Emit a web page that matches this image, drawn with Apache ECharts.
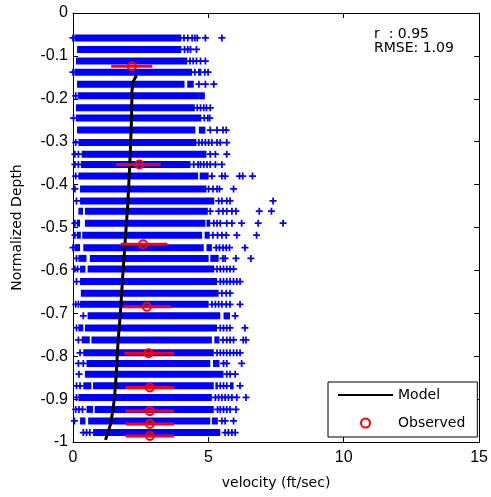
<!DOCTYPE html>
<html>
<head>
<meta charset="utf-8">
<script src="https://cdn.jsdelivr.net/npm/echarts@6/dist/echarts.min.js"></script>
<style>html,body{margin:0;padding:0;background:#fff;}#c{width:491px;height:497px;}</style>
</head>
<body>
<div id="c"></div>
<script>
// ---- data ----
const rowDepths = [-0.058,-0.085,-0.112,-0.138,-0.166,-0.193,-0.221,-0.245,-0.273,-0.302,-0.329,-0.353,-0.380,-0.410,-0.438,-0.462,-0.490,-0.518,-0.547,-0.572,-0.597,-0.626,-0.653,-0.679,-0.706,-0.734,-0.762,-0.792,-0.817,-0.842,-0.869,-0.896,-0.924,-0.951,-0.978];
const bandStart = [0.05,0.15,0.11,0.05,0.15,0.17,0.11,0.11,0.15,0.20,0.32,0.29,0.20,0.26,0.26,0.44,0.44,0.34,0.38,0.62,0.54,0.26,0.29,0.26,0.54,0.44,0.68,0.38,0.50,0.44,0.74,0.20,0.80,0.56,0.74];
const bandEnd = [4.00,4.00,4.22,4.40,4.12,4.65,4.50,4.74,4.52,4.56,4.93,4.34,4.62,4.93,5.22,4.98,4.89,4.77,4.83,5.01,5.22,5.32,5.38,5.01,5.44,5.32,5.13,5.20,5.07,5.56,5.20,5.13,5.20,5.07,5.44];
const rowClusters = [
  [],[],[],[[4.62,4.74]],[[4.22,4.46]],[[4.65,4.87]],[],[],[[4.65,4.89]],[],
  [],[],[[4.68,5.01]],[],[],[[0.20,0.37]],[[0.14,0.26],[4.93,5.07]],[[0.14,0.29],[4.86,5.05]],[[0.05,0.26],[4.93,5.13]],[[0.20,0.50],[5.07,5.38]],
  [[0.26,0.46]],[],[],[],[[5.56,5.80]],[[0.20,0.38]],[[0.32,0.62],[5.22,5.41]],[],[[5.17,5.41]],[],
  [[0.38,0.68],[5.26,5.35],[5.80,5.93]],[],[[0.50,0.74]],[[0.26,0.46],[5.13,5.35]],[]
];
const rowPluses = [
  [0.0,4.10,4.24,4.40,4.50,4.59,4.89,5.50],
  [4.12,4.24,4.34,4.56],
  [4.32,4.44,4.56,4.71,4.89],
  [0.0,4.50,4.87,4.99],
  [4.65,4.89,5.20],
  [0.10],
  [4.59,4.71,4.83,4.93,5.07],
  [0.02,4.85,4.98,5.05],
  [5.07,5.32,5.54,5.66],
  [0.10,4.65,4.77,4.89,5.01,5.13,5.32,5.44,5.68],
  [0.07,0.20,5.07,5.26,5.68],
  [0.07,0.20,4.46,4.62,4.71,4.83,4.95,5.07,5.26,5.50],
  [0.10,5.13,5.50,5.62,6.15,6.27,6.63],
  [0.07,5.01,5.17,5.32,5.41,5.93],
  [0.13,5.38,5.50,5.68,5.80,7.39],
  [5.07,5.38,5.54,5.68,5.87,6.02,6.88,7.33],
  [0.07,5.20,5.32,5.44,5.68,5.87,6.23,6.84,7.76],
  [0.07,5.17,5.34,5.50,5.66,6.05,6.78],
  [0.00,5.29,5.41,5.54,5.66,5.78,6.35],
  [0.13,5.54,5.62,6.02,6.57],
  [0.07,0.17,5.32,5.44,5.56,5.68,5.80,5.93],
  [0.13,5.44,5.56,5.68,5.80,5.93,6.05,6.17],
  [5.50,5.66,5.80],
  [0.10,0.20,5.13,5.26,5.38,5.50,5.66,5.80,6.17],
  [0.38,5.99],
  [0.13,5.44,5.56,5.68,5.80,6.35],
  [0.20,5.54,5.68,5.80,5.93,6.29,6.39],
  [0.26,5.32,5.44,5.56,5.68,5.80,5.93,6.05,6.17],
  [0.20,0.38,5.56,5.68,6.23],
  [0.22,5.68,5.80,5.99],
  [0.13,0.26,5.44,5.56,5.68,6.17],
  [0.13,5.26,5.38,5.50,5.62,5.74,5.87,6.05,6.39],
  [0.10,0.22,0.35,5.34,5.44,5.56,5.68,5.80,6.02],
  [0.05,5.50,5.62,5.93],
  [0.38,0.50,0.62,5.62,5.74,5.87,5.99]
];
const modelDepth = [-0.145,-0.160,-0.180,-0.25,-0.35,-0.45,-0.52,-0.61,-0.70,-0.77,-0.84,-0.89,-0.92,-0.96,-0.995];
const modelVel   = [2.35,2.22,2.18,2.16,2.10,2.02,1.94,1.84,1.75,1.66,1.60,1.54,1.49,1.38,1.20];
const obsDepth = [-0.124,-0.353,-0.539,-0.685,-0.793,-0.873,-0.928,-0.958,-0.986];
const obsVel   = [2.17,2.45,2.59,2.73,2.79,2.84,2.84,2.84,2.84];
const obsLo    = [1.41,1.60,1.76,1.85,1.90,1.94,1.94,1.94,1.94];
const obsHi    = [2.93,3.24,3.49,3.63,3.73,3.73,3.73,3.73,3.73];
const statsText = ['r  : 0.95','RMSE: 1.09'];

// ---- build ----
const bandData = [];
rowDepths.forEach((d,i)=>{
  bandData.push([bandStart[i], bandEnd[i], d]);
  rowClusters[i].forEach(c=>bandData.push([c[0], c[1], d]));
});
const plusData = [];
rowDepths.forEach((d,i)=>rowPluses[i].forEach(v=>plusData.push([v,d])));
const modelData = modelDepth.map((d,i)=>[modelVel[i], d]);
const obsData = obsDepth.map((d,i)=>[obsVel[i], d]);
const errData = obsDepth.map((d,i)=>[obsLo[i], obsHi[i], d]);

const TICKFONT = 'Liberation Sans, Arial, sans-serif';
const TEXTFONT = 'DejaVu Sans, Verdana, sans-serif';
const BLUE = '#0000ff', RED = '#ff0000';
const PLUS = 'path://M3,0H5V3H8V5H5V8H3V5H0V3H3Z';

const chart = echarts.init(document.getElementById('c'), null, {renderer:'canvas'});
const axisCommon = {
  axisLine:{show:true, onZero:false, lineStyle:{color:'#000', width:1}},
  axisTick:{show:true, inside:true, length:5, lineStyle:{color:'#000'}},
  splitLine:{show:false}
};
chart.setOption({
  animation:false,
  backgroundColor:'#fff',
  grid:{left:73, top:13, right:8, bottom:55, containLabel:false},
  xAxis:[
    Object.assign({type:'value', min:0, max:15, interval:5, position:'bottom',
      name:'velocity (ft/sec)', nameLocation:'middle', nameGap:34,
      nameTextStyle:{color:'#000', fontSize:14, fontFamily:TEXTFONT},
      axisLabel:{color:'#000', fontSize:16, fontFamily:TICKFONT, margin:8}}, axisCommon),
    Object.assign({type:'value', min:0, max:15, interval:5, position:'top', axisLabel:{show:false}}, axisCommon)
  ],
  yAxis:[
    Object.assign({type:'value', min:-1, max:0, interval:0.1, position:'left',
      name:'Normalized Depth', nameLocation:'middle', nameGap:49,
      nameTextStyle:{color:'#000', fontSize:14, fontFamily:TEXTFONT},
      axisLabel:{color:'#000', fontSize:16, fontFamily:TICKFONT, margin:5}}, axisCommon),
    Object.assign({type:'value', min:-1, max:0, interval:0.1, position:'right', axisLabel:{show:false}}, axisCommon)
  ],
  legend:{
    orient:'vertical', left:328, top:382,
    padding:[6,12,7,10], itemGap:14, itemWidth:55, itemHeight:9,
    borderColor:'#000', borderWidth:1, backgroundColor:'#fff',
    textStyle:{color:'#000', fontSize:14, fontFamily:TEXTFONT},
    data:[{name:'Model', icon:'path://M0,0H55V2H0Z'}, {name:'Observed'}]
  },
  graphic:[
    {type:'text', left:374, top:27, style:{text:statsText[0], fill:'#000', font:'14px '+TEXTFONT}},
    {type:'text', left:374, top:41, style:{text:statsText[1], fill:'#000', font:'14px '+TEXTFONT}}
  ],
  series:[
    {type:'custom', name:'bands', data:bandData, encode:{x:[0,1], y:2}, silent:true, z:1,
      renderItem:(params, api)=>{
        const s = api.coord([api.value(0), api.value(2)]);
        const e = api.coord([api.value(1), api.value(2)]);
        return {type:'rect', shape:{x:s[0], y:s[1]-3.5, width:e[0]-s[0], height:7}, style:{fill:BLUE}};
      }},
    {type:'scatter', name:'samples', data:plusData, symbol:PLUS, symbolSize:7, silent:true, z:2,
      itemStyle:{color:BLUE, opacity:1}},
    {type:'line', name:'Model', data:modelData, showSymbol:false, symbol:'none', z:3,
      lineStyle:{color:'#000', width:3}, itemStyle:{color:'#000'}},
    {type:'custom', name:'errbars', data:errData, encode:{x:[0,1], y:2}, silent:true, z:4,
      renderItem:(params, api)=>{
        const s = api.coord([api.value(0), api.value(2)]);
        const e = api.coord([api.value(1), api.value(2)]);
        return {type:'line', shape:{x1:s[0], y1:s[1], x2:e[0], y2:e[1]}, style:{stroke:RED, lineWidth:3}};
      }},
    {type:'scatter', name:'Observed', data:obsData, symbol:'circle', symbolSize:8, z:5,
      itemStyle:{color:'rgba(255,255,255,0)', borderColor:RED, borderWidth:2, opacity:1}}
  ]
});
</script>
</body>
</html>
